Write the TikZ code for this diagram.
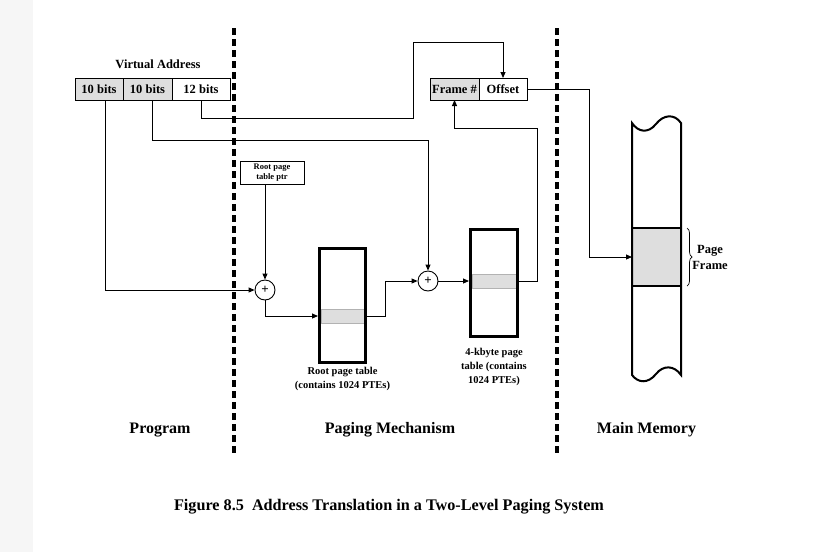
\documentclass[tikz,border=0pt]{standalone}
\usepackage{fontspec}
\setmainfont{Liberation Serif}
\usetikzlibrary{arrows.meta, positioning, decorations.pathreplacing, calc}
\definecolor{cellgray}{gray}{0.87}
\definecolor{stripgray}{gray}{0.965}

\begin{document}
\begin{tikzpicture}[x=1pt, y=-1pt,
    conn/.style={draw, line width=0.9pt, -{Triangle[length=6pt,width=5pt]}},
    cell/.style={draw, line width=0.9pt, outer sep=0pt, minimum height=22pt, inner sep=0pt, font=\fontsize{12.5}{14}\selectfont\bfseries},
    adder/.style={circle, draw, line width=0.9pt, minimum size=20pt, inner sep=0pt, font=\fontsize{13}{13}\selectfont\bfseries},
    ptable/.style={draw, line width=3pt, inner sep=0pt},
    entry/.style={draw=gray!60, fill=cellgray, line width=0.8pt, minimum height=14pt, inner sep=0pt},
    divider/.style={line width=4pt, dash pattern=on 7pt off 4pt},
    tlabel/.style={align=center, font=\fontsize{10.5}{14}\selectfont\bfseries},
    region/.style={font=\fontsize{16}{18}\selectfont\bfseries}]
    \useasboundingbox (0,0) rectangle (829,552);
    \fill[stripgray] (0,0) rectangle (33,552);
    % dividers between the three parts
    \draw[divider] (234,28) -- (234,456);
    \draw[divider] (557,28) -- (557,456);

    % virtual address
    \node[font=\fontsize{12.5}{14}\selectfont\bfseries] (vatitle) at (158,64) {Virtual Address};
    \node[cell, fill=cellgray, minimum width=48pt] (va1) at (99,89) {10 bits};
    \node[cell, fill=cellgray, minimum width=49pt, anchor=west] (va2) at (va1.east) {10 bits};
    \node[cell, minimum width=58pt, anchor=west] (va3) at (va2.east) {12 bits};

    % physical address
    \node[cell, fill=cellgray, minimum width=49pt] (fn) at (454.5,89) {Frame \#};
    \node[cell, minimum width=48pt, anchor=west] (off) at (fn.east) {Offset};

    % root pointer and adders
    \node[draw, line width=0.8pt, minimum width=64pt, minimum height=23pt, inner sep=0pt, align=center,
          font=\fontsize{8.5}{9.5}\selectfont\bfseries] (ptr) at (272,172.5) {Root page\\table ptr};
    \node[adder] (add1) at (265,290) {+};
    \node[adder] (add2) at (428,281) {+};

    % page tables
    \node[entry, minimum width=43pt] (roote) at (342.5,316) {};
    \node[ptable, minimum width=46pt, minimum height=114pt] (roottbl) at (342.5,305.5) {};
    \node[entry, minimum width=44pt] (pge) at (494,281) {};
    \node[ptable, minimum width=47pt, minimum height=107pt] (pgtbl) at (494,283) {};
    \node[tlabel, below=0pt of roottbl] (rootlbl) {Root page table\\(contains 1024 PTEs)};
    \node[tlabel, below=7pt of pgtbl] (pglbl) {4-kbyte page\\table (contains\\1024 PTEs)};

    % main memory
    \node[fill=cellgray, minimum width=49pt, minimum height=58pt, inner sep=0pt, outer sep=0pt] (pf) at (656.5,257) {};
    \draw[line width=2pt] (pf.north west) -- (pf.north east);
    \draw[line width=2pt] (pf.south west) -- (pf.south east);
    \draw[line width=2pt] (632,123) .. controls (638,132) and (648,134) .. (656,124)
        .. controls (663,115) and (674,113) .. (681,123) -- (681,375)
        .. controls (674,365) and (663,365) .. (656,374)
        .. controls (648,384) and (638,383) .. (632,375) -- cycle;
    \draw[decorate, decoration={brace, amplitude=5pt}, line width=0.7pt]
        ($(pf.north east)+(6,0)$) -- ($(pf.south east)+(6,0)$);
    \node[align=center, font=\fontsize{12.5}{16}\selectfont\bfseries] (pflbl) at (710,257) {Page\\Frame};

    % connectors
    \coordinate (up) at (413,42);
    \coordinate (ret) at (537,128);
    \coordinate (drop) at (589,89);
    \draw[conn] ($(va1.south)+(6,0)$) |- (add1.west);
    \draw[conn] ($(va2.south)+(5,0)$) -- ++(0,40) -| (add2.north);
    \draw[conn] (va3.south) -- ++(0,18) -| (up) -| (off.north);
    \draw[conn] (ptr.south -| add1) -- (add1.north);
    \draw[conn] (add1.south) |- (roottbl.west |- roote.west);
    \draw[conn] (roote.east) -- ++(21,0) |- (add2.west);
    \draw[conn] (add2.east) -- (pgtbl.west |- add2.east);
    \draw[conn] (pge.east) -| (ret) -| (fn.south);
    \draw[conn] (off.east) -- (drop) |- (pf.west);

    % part names
    \node[region] (prog) at (160,430) {Program};
    \node[region] (paging) at (390,430) {Paging Mechanism};
    \node[region] (mainmem) at (646.5,430) {Main Memory};
    \node[font=\fontsize{16.2}{18}\selectfont\bfseries] (caption) at (389,507)
        {Figure 8.5\enspace Address Translation in a Two-Level Paging System};
\end{tikzpicture}
\end{document}
